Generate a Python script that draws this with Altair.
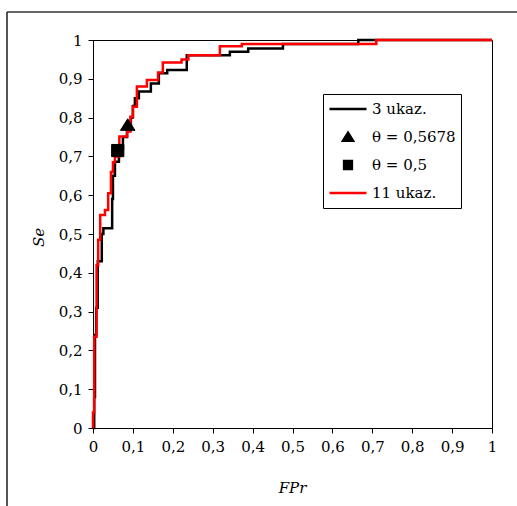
import altair as alt
import pandas as pd

# ---- data ----
black_fpr = [0, 0.003, 0.003, 0.005, 0.005, 0.008, 0.008, 0.012, 0.012, 0.022, 0.022, 0.026, 0.026, 0.048, 0.048,
             0.050, 0.050, 0.055, 0.055, 0.065, 0.065, 0.075, 0.075, 0.085, 0.085, 0.095, 0.095, 0.100, 0.100,
             0.105, 0.105, 0.115, 0.115, 0.145, 0.145, 0.165, 0.165, 0.186, 0.186, 0.235, 0.235, 0.343, 0.343,
             0.389, 0.389, 0.476, 0.476, 0.665, 0.665, 1]
black_se = [0, 0, 0.08, 0.08, 0.24, 0.24, 0.31, 0.31, 0.43, 0.43, 0.50, 0.50, 0.515, 0.515, 0.59,
            0.59, 0.65, 0.65, 0.686, 0.686, 0.72, 0.72, 0.75, 0.75, 0.78, 0.78, 0.80, 0.80, 0.83,
            0.83, 0.85, 0.85, 0.867, 0.867, 0.888, 0.888, 0.914, 0.914, 0.923, 0.923, 0.961, 0.961, 0.97,
            0.97, 0.978, 0.978, 0.99, 0.99, 1, 1]

red_fpr = [0, 0, 0.003, 0.003, 0.009, 0.009, 0.013, 0.013, 0.018, 0.018, 0.030, 0.030, 0.038, 0.038,
           0.045, 0.045, 0.050, 0.050, 0.055, 0.055, 0.066, 0.066, 0.086, 0.086, 0.094, 0.094, 0.100, 0.100,
           0.110, 0.110, 0.135, 0.135, 0.163, 0.163, 0.175, 0.175, 0.222, 0.222, 0.239, 0.239, 0.318, 0.318,
           0.373, 0.373, 0.71, 0.71, 1]
red_se = [0, 0.04, 0.04, 0.235, 0.235, 0.42, 0.42, 0.485, 0.485, 0.549, 0.549, 0.562, 0.562, 0.605,
          0.605, 0.66, 0.66, 0.685, 0.685, 0.70, 0.70, 0.751, 0.751, 0.764, 0.764, 0.802, 0.802, 0.828,
          0.828, 0.880, 0.880, 0.897, 0.897, 0.916, 0.916, 0.942, 0.942, 0.950, 0.950, 0.961, 0.961, 0.984,
          0.984, 0.99, 0.99, 1, 1]

point_labels = ["θ = 0,5678", "θ = 0,5"]
point_fpr = [0.087, 0.062]
point_se = [0.781, 0.715]

series_labels = ["3 ukaz.", "θ = 0,5678", "θ = 0,5", "11 ukaz."]
series_colors = ["#000000", "#000000", "#000000", "#ff0000"]
series_shapes = ["M-1,0H1", "M0,-0.23L0.27,0.2L-0.27,0.2Z", "M-0.21,-0.21H0.21V0.21H-0.21Z", "M-1,0H1"]
point_sizes = [2900, 3400]
tick_values = [0, 0.1, 0.2, 0.3, 0.4, 0.5, 0.6, 0.7, 0.8, 0.9, 1]

black_df = pd.DataFrame({"fpr": black_fpr, "se": black_se, "i": range(len(black_fpr)), "series": "3 ukaz."})
red_df = pd.DataFrame({"fpr": red_fpr, "se": red_se, "i": range(len(red_fpr)), "series": "11 ukaz."})
pts_df = pd.DataFrame({"fpr": point_fpr, "se": point_se, "series": point_labels})

FONT = "DejaVu Serif"
LABEL_EXPR = "replace(format(datum.value, '~g'), '.', ',')"

xenc = alt.X("fpr:Q", scale=alt.Scale(domain=[0, 1], nice=False),
             axis=alt.Axis(values=tick_values, title="FPr", labelExpr=LABEL_EXPR,
                           titleX=199, titleY=59, titleBaseline="middle", titleFontStyle="italic"))
yenc = alt.Y("se:Q", scale=alt.Scale(domain=[0, 1], nice=False),
             axis=alt.Axis(values=tick_values, title="Se", labelExpr=LABEL_EXPR,
                           titleX=-55, titleY=197, titleBaseline="middle", titleAlign="center",
                           titleAngle=-90, titleFontStyle="italic"))

color_scale = alt.Scale(domain=series_labels, range=series_colors)
shape_scale = alt.Scale(domain=series_labels, range=series_shapes)

legend = alt.Legend(title=None, orient="none", legendX=230, legendY=54, padding=5,
                    strokeColor="black", fillColor="white", labelFont=FONT, labelFontSize=15,
                    labelColor="black", symbolSize=1369, symbolStrokeWidth=2.5, clipHeight=20,
                    rowPadding=8, labelOffset=4, cornerRadius=0)

black_line = alt.Chart(black_df).mark_line(strokeWidth=2.5, interpolate="linear").encode(
    x=xenc, y=yenc, order="i:Q",
    color=alt.Color("series:N", scale=color_scale, legend=legend))
red_line = alt.Chart(red_df).mark_line(strokeWidth=2.5, interpolate="linear").encode(
    x=xenc, y=yenc, order="i:Q",
    color=alt.Color("series:N", scale=color_scale, legend=legend))

points = alt.Chart(pts_df).mark_point(filled=True, opacity=1, strokeWidth=1).encode(
    x=xenc, y=yenc,
    color=alt.Color("series:N", scale=color_scale, legend=legend),
    stroke=alt.Stroke("series:N", scale=color_scale, legend=legend),
    shape=alt.Shape("series:N", scale=shape_scale, legend=legend),
    size=alt.Size("series:N", scale=alt.Scale(type="ordinal", domain=point_labels, range=point_sizes),
                  legend=None))

frame_left = alt.Chart(pts_df).mark_rule(color="#333333", strokeWidth=1.2, clip=False).encode(
    x=alt.value(-86), y=alt.value(-28), y2=alt.value(470))
frame_top = alt.Chart(pts_df).mark_rule(color="#333333", strokeWidth=1.2, clip=False).encode(
    x=alt.value(-86), x2=alt.value(430), y=alt.value(-28))

chart = alt.layer(frame_left, frame_top, black_line, red_line, points).properties(
    width=399, height=388, autosize=alt.AutoSizeParams(type="none"),
    padding={"left": 93, "top": 40, "right": 25, "bottom": 78},
    background="white",
).configure_view(stroke="black", strokeWidth=1).configure_axis(
    grid=False, labelFont=FONT, labelFontSize=15, labelColor="black", titleFont=FONT,
    titleFontSize=15, titleColor="black", titleFontWeight="normal", domainColor="black",
    tickColor="black", tickSize=5, labelPadding=6, labelFlush=False, labelOverlap=False
)

chart.save("out.html", embed_options={"renderer": "svg", "actions": False})
